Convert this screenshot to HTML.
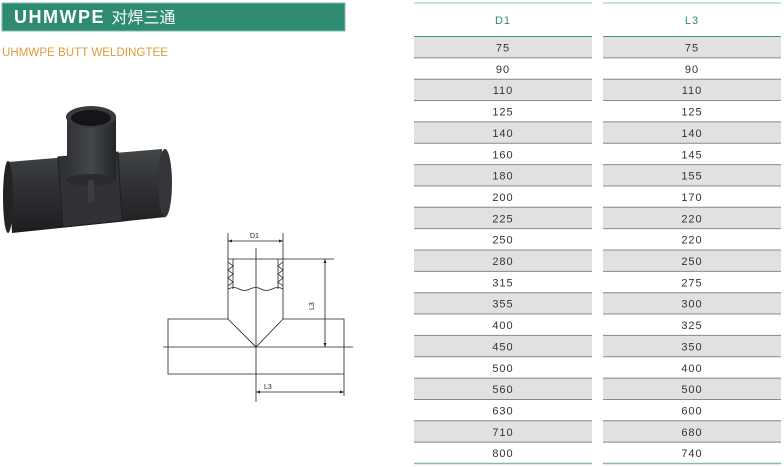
<!DOCTYPE html>
<html><head><meta charset="utf-8"><style>
html,body{margin:0;padding:0;background:#fff;width:784px;height:467px;overflow:hidden}
svg{display:block}
text{font-family:"Liberation Sans","Noto Sans CJK SC",sans-serif}
</style></head><body>
<svg width="784" height="467" viewBox="0 0 784 467" xmlns="http://www.w3.org/2000/svg">
<defs>
<linearGradient id="pg" x1="0" y1="0" x2="0" y2="1">
<stop offset="0" stop-color="#44474a"/><stop offset="0.35" stop-color="#323437"/><stop offset="1" stop-color="#1c1d1f"/>
</linearGradient>
<linearGradient id="bg" x1="0" y1="0" x2="1" y2="0">
<stop offset="0" stop-color="#303235"/><stop offset="0.5" stop-color="#44474a"/><stop offset="1" stop-color="#232426"/>
</linearGradient>
</defs>
<rect x="2" y="3" width="343" height="28" fill="#2e8b72"/>
<rect x="2" y="3" width="343" height="28" fill="none" stroke="#7fbfa9" stroke-width="1"/>
<text x="14" y="23" font-size="18" font-weight="bold" fill="#fff" letter-spacing="1.5">UHMWPE <tspan font-size="16" font-weight="normal" letter-spacing="0">对焊三通</tspan></text>
<text x="2" y="56" font-size="11.5" fill="#e09a3a" textLength="166" lengthAdjust="spacingAndGlyphs">UHMWPE BUTT WELDINGTEE</text>

<path d="M8,162 L162,149 L166,217 L12,233 Z" fill="url(#pg)"/>
<ellipse cx="8" cy="197" rx="5" ry="36" fill="#222325"/>
<ellipse cx="165" cy="183" rx="7" ry="34" fill="#333538"/>
<path d="M58,157 L118,152 L122,221 L63,227 Z" fill="#303235" stroke="#1e1f21" stroke-width="1"/>
<rect x="67" y="117" width="49" height="63" fill="url(#bg)"/>
<ellipse cx="91" cy="180" rx="25" ry="6" fill="#2a2b2d"/>
<ellipse cx="91" cy="117" rx="25" ry="11" fill="#383a3d"/>
<ellipse cx="91" cy="118" rx="20" ry="8" fill="#141516"/>
<rect x="88" y="180" width="6" height="22" fill="#3a3c3f"/>

<g stroke="#222" stroke-width="0.8" fill="none">
<line x1="228" y1="233" x2="228" y2="319"/>
<line x1="283" y1="233" x2="283" y2="319"/>
<line x1="228" y1="241" x2="283" y2="241"/>
<line x1="228" y1="259" x2="334" y2="259"/>
<line x1="233" y1="259" x2="233" y2="289"/>
<line x1="278" y1="259" x2="278" y2="289"/>
<path d="M228,262 l5,4 l-5,4 l5,4 l-5,4 l5,4 l-5,4"/>
<path d="M283,262 l-5,4 l5,4 l-5,4 l5,4 l-5,4 l5,4"/>
<path d="M228,289 q6,-3 11,0 t11,0 t11,0 t11,0 t11,0"/>
<line x1="256" y1="248" x2="256" y2="402"/>
<path d="M168,374 L168,319 L228,319 L256,347 L283,319 L344,319 L344,374 Z"/>
<line x1="163" y1="347" x2="353" y2="347"/>
<line x1="325" y1="259" x2="325" y2="347"/>
<line x1="256" y1="392" x2="344" y2="392"/>
<line x1="344" y1="374" x2="344" y2="396"/>
</g>
<g fill="#222">
<path d="M228,241 l4,-1.5 v3 Z"/><path d="M283,241 l-4,-1.5 v3 Z"/>
<path d="M325,259 l-1.5,4 h3 Z"/><path d="M325,347 l-1.5,-4 h3 Z"/>
<path d="M256,392 l4,-1.5 v3 Z"/><path d="M344,392 l-4,-1.5 v3 Z"/>
</g>
<text x="250" y="238" font-size="7" fill="#222">D1</text>
<text x="264" y="389" font-size="7" fill="#222">L3</text>
<text x="0" y="0" font-size="7" fill="#222" transform="translate(314,310) rotate(-90)">L3</text>

<g id="t"></g>
</svg>
<script>
var d1=[75,90,110,125,140,160,180,200,225,250,280,315,355,400,450,500,560,630,710,800];
var l3=[75,90,110,125,140,145,155,170,220,220,250,275,300,325,350,400,500,600,680,740];
var g=document.getElementById('t'),s='';
var cols=[[414,178,d1,'D1'],[603,178,l3,'L3']];
var rh=21.35,y0=36.5;
cols.forEach(function(c){
 var x=c[0],w=c[1],cx=x+w/2;
 s+='<line x1="'+x+'" y1="3" x2="'+(x+w)+'" y2="3" stroke="#8ccab4" stroke-width="1"/>';
 s+='<text x="'+cx+'" y="24" font-size="11" fill="#2e8b72" text-anchor="middle" letter-spacing="1">'+c[3]+'</text>';
 for(var i=0;i<20;i++){
  var y=y0+i*rh;
  if(i%2==0)s+='<rect x="'+x+'" y="'+y+'" width="'+w+'" height="'+rh+'" fill="#e1e1e1"/>';
  s+='<line x1="'+x+'" y1="'+y+'" x2="'+(x+w)+'" y2="'+y+'" stroke="'+(i==0?'#4a9a80':'#888')+'" stroke-width="1"/>';
  s+='<text x="'+cx+'" y="'+(y+15)+'" font-size="11" fill="#333" text-anchor="middle" letter-spacing="1">'+c[2][i]+'</text>';
 }
 s+='<line x1="'+x+'" y1="'+(y0+20*rh)+'" x2="'+(x+w)+'" y2="'+(y0+20*rh)+'" stroke="#7fbfa9" stroke-width="1.5"/>';
});
g.innerHTML=s;
</script>
</body></html>
